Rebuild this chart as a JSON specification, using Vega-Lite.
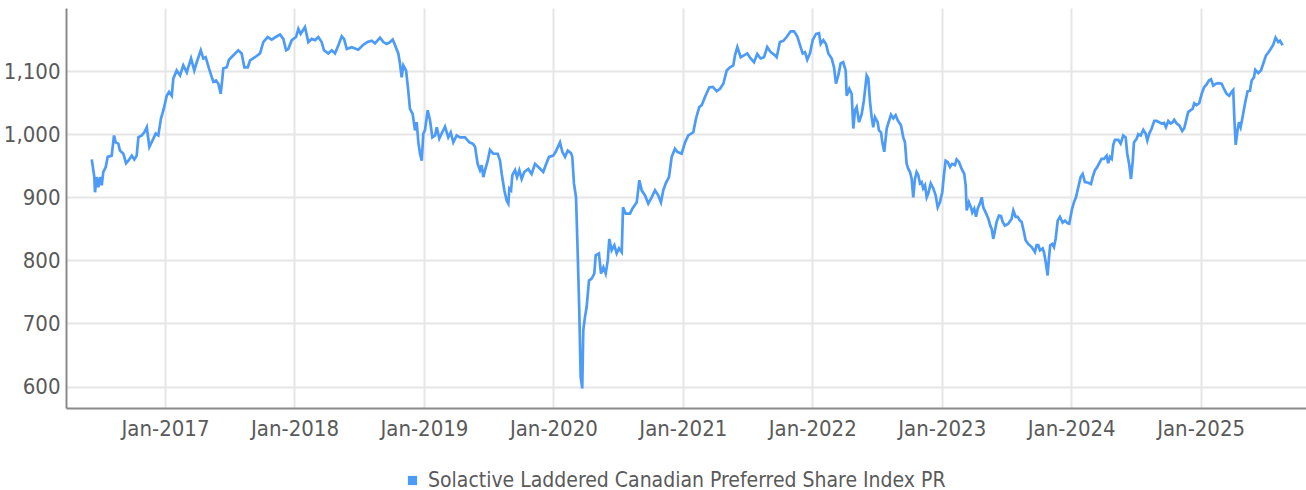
{
  "$schema": "https://vega.github.io/schema/vega-lite/v6.json",
  "autosize": {"type": "none"},
  "width": 1240,
  "height": 400,
  "padding": {"left": 66, "top": 8, "right": 0, "bottom": 82},
  "background": "white",
  "config": {
    "font": "DejaVu Sans Condensed, Roboto",
    "view": {"stroke": null},
    "axis": {"labelFont": "DejaVu Sans Condensed, Roboto", "labelColor": "#5a5a5a", "labelFontSize": 22, "gridColor": "#e6e6e6", "gridWidth": 2, "domainColor": "#8a8a8a", "domainWidth": 2, "ticks": false, "title": null},
    "legend": {"labelFont": "DejaVu Sans Condensed, Roboto", "labelColor": "#5a5a5a", "labelFontSize": 21}
  },
  "data": {"values": [
    {"year": 2016.434, "value": 960}, {"year": 2016.454, "value": 932}, {"year": 2016.459, "value": 908}, {"year": 2016.472, "value": 932},
    {"year": 2016.485, "value": 916}, {"year": 2016.498, "value": 932}, {"year": 2016.511, "value": 919}, {"year": 2016.523, "value": 940},
    {"year": 2016.542, "value": 948}, {"year": 2016.557, "value": 964}, {"year": 2016.588, "value": 966}, {"year": 2016.606, "value": 998},
    {"year": 2016.619, "value": 987}, {"year": 2016.639, "value": 985}, {"year": 2016.652, "value": 974}, {"year": 2016.678, "value": 969},
    {"year": 2016.699, "value": 954}, {"year": 2016.717, "value": 958}, {"year": 2016.743, "value": 966}, {"year": 2016.763, "value": 960},
    {"year": 2016.781, "value": 966}, {"year": 2016.794, "value": 995}, {"year": 2016.820, "value": 998}, {"year": 2016.840, "value": 1003},
    {"year": 2016.859, "value": 1011}, {"year": 2016.879, "value": 980}, {"year": 2016.910, "value": 993}, {"year": 2016.928, "value": 1001},
    {"year": 2016.948, "value": 998}, {"year": 2016.969, "value": 1025}, {"year": 2016.990, "value": 1040}, {"year": 2017.013, "value": 1061},
    {"year": 2017.031, "value": 1067}, {"year": 2017.052, "value": 1061}, {"year": 2017.064, "value": 1088}, {"year": 2017.090, "value": 1101},
    {"year": 2017.116, "value": 1093}, {"year": 2017.141, "value": 1109}, {"year": 2017.168, "value": 1098}, {"year": 2017.201, "value": 1120},
    {"year": 2017.226, "value": 1101}, {"year": 2017.245, "value": 1114}, {"year": 2017.276, "value": 1133}, {"year": 2017.296, "value": 1120},
    {"year": 2017.314, "value": 1122}, {"year": 2017.340, "value": 1104}, {"year": 2017.373, "value": 1083}, {"year": 2017.394, "value": 1085},
    {"year": 2017.412, "value": 1080}, {"year": 2017.430, "value": 1064}, {"year": 2017.443, "value": 1088}, {"year": 2017.450, "value": 1104},
    {"year": 2017.477, "value": 1106}, {"year": 2017.494, "value": 1118}, {"year": 2017.528, "value": 1125}, {"year": 2017.566, "value": 1133},
    {"year": 2017.592, "value": 1128}, {"year": 2017.613, "value": 1106}, {"year": 2017.639, "value": 1106}, {"year": 2017.657, "value": 1117},
    {"year": 2017.695, "value": 1122}, {"year": 2017.734, "value": 1128}, {"year": 2017.759, "value": 1146}, {"year": 2017.793, "value": 1154},
    {"year": 2017.824, "value": 1150}, {"year": 2017.855, "value": 1154}, {"year": 2017.888, "value": 1158}, {"year": 2017.914, "value": 1151},
    {"year": 2017.935, "value": 1133}, {"year": 2017.952, "value": 1135}, {"year": 2017.979, "value": 1149}, {"year": 2018.012, "value": 1154},
    {"year": 2018.030, "value": 1167}, {"year": 2018.048, "value": 1159}, {"year": 2018.081, "value": 1170}, {"year": 2018.107, "value": 1146},
    {"year": 2018.133, "value": 1151}, {"year": 2018.159, "value": 1149}, {"year": 2018.184, "value": 1154}, {"year": 2018.210, "value": 1146},
    {"year": 2018.228, "value": 1133}, {"year": 2018.261, "value": 1128}, {"year": 2018.288, "value": 1133}, {"year": 2018.313, "value": 1128},
    {"year": 2018.339, "value": 1141}, {"year": 2018.365, "value": 1155}, {"year": 2018.383, "value": 1151}, {"year": 2018.404, "value": 1135},
    {"year": 2018.442, "value": 1138}, {"year": 2018.493, "value": 1134}, {"year": 2018.527, "value": 1141}, {"year": 2018.563, "value": 1146},
    {"year": 2018.597, "value": 1148}, {"year": 2018.622, "value": 1144}, {"year": 2018.661, "value": 1153}, {"year": 2018.686, "value": 1146},
    {"year": 2018.712, "value": 1143}, {"year": 2018.738, "value": 1146}, {"year": 2018.759, "value": 1150}, {"year": 2018.777, "value": 1141},
    {"year": 2018.802, "value": 1128}, {"year": 2018.815, "value": 1112}, {"year": 2018.828, "value": 1090}, {"year": 2018.841, "value": 1109},
    {"year": 2018.862, "value": 1101}, {"year": 2018.879, "value": 1069}, {"year": 2018.892, "value": 1040}, {"year": 2018.913, "value": 1032},
    {"year": 2018.931, "value": 1006}, {"year": 2018.944, "value": 1019}, {"year": 2018.957, "value": 987}, {"year": 2018.970, "value": 969},
    {"year": 2018.983, "value": 958}, {"year": 2018.995, "value": 1001}, {"year": 2019.008, "value": 1006}, {"year": 2019.029, "value": 1038},
    {"year": 2019.047, "value": 1022}, {"year": 2019.065, "value": 995}, {"year": 2019.086, "value": 998}, {"year": 2019.099, "value": 1011},
    {"year": 2019.119, "value": 993}, {"year": 2019.137, "value": 1001}, {"year": 2019.163, "value": 1012}, {"year": 2019.188, "value": 995},
    {"year": 2019.207, "value": 1003}, {"year": 2019.227, "value": 987}, {"year": 2019.253, "value": 998}, {"year": 2019.279, "value": 995},
    {"year": 2019.317, "value": 995}, {"year": 2019.351, "value": 987}, {"year": 2019.377, "value": 985}, {"year": 2019.395, "value": 980},
    {"year": 2019.415, "value": 953}, {"year": 2019.433, "value": 943}, {"year": 2019.446, "value": 951}, {"year": 2019.459, "value": 932},
    {"year": 2019.472, "value": 943}, {"year": 2019.493, "value": 958}, {"year": 2019.510, "value": 975}, {"year": 2019.536, "value": 969},
    {"year": 2019.570, "value": 969}, {"year": 2019.588, "value": 958}, {"year": 2019.601, "value": 937}, {"year": 2019.621, "value": 911},
    {"year": 2019.639, "value": 895}, {"year": 2019.652, "value": 890}, {"year": 2019.660, "value": 914}, {"year": 2019.673, "value": 911},
    {"year": 2019.683, "value": 935}, {"year": 2019.704, "value": 943}, {"year": 2019.719, "value": 932}, {"year": 2019.737, "value": 943},
    {"year": 2019.755, "value": 929}, {"year": 2019.775, "value": 940}, {"year": 2019.806, "value": 945}, {"year": 2019.832, "value": 937},
    {"year": 2019.858, "value": 953}, {"year": 2019.884, "value": 948}, {"year": 2019.922, "value": 940}, {"year": 2019.941, "value": 951},
    {"year": 2019.966, "value": 964}, {"year": 2019.999, "value": 966}, {"year": 2020.018, "value": 972}, {"year": 2020.051, "value": 987},
    {"year": 2020.069, "value": 972}, {"year": 2020.090, "value": 964}, {"year": 2020.111, "value": 974}, {"year": 2020.136, "value": 970},
    {"year": 2020.146, "value": 964}, {"year": 2020.159, "value": 922}, {"year": 2020.175, "value": 900}, {"year": 2020.188, "value": 811},
    {"year": 2020.200, "value": 721}, {"year": 2020.211, "value": 615}, {"year": 2020.223, "value": 597}, {"year": 2020.231, "value": 689},
    {"year": 2020.244, "value": 710}, {"year": 2020.257, "value": 726}, {"year": 2020.275, "value": 768}, {"year": 2020.296, "value": 771},
    {"year": 2020.316, "value": 779}, {"year": 2020.327, "value": 808}, {"year": 2020.352, "value": 811}, {"year": 2020.368, "value": 779},
    {"year": 2020.386, "value": 789}, {"year": 2020.404, "value": 779}, {"year": 2020.420, "value": 800}, {"year": 2020.432, "value": 834},
    {"year": 2020.450, "value": 816}, {"year": 2020.471, "value": 824}, {"year": 2020.489, "value": 811}, {"year": 2020.507, "value": 819},
    {"year": 2020.528, "value": 813}, {"year": 2020.538, "value": 884}, {"year": 2020.559, "value": 874}, {"year": 2020.592, "value": 874},
    {"year": 2020.610, "value": 882}, {"year": 2020.644, "value": 892}, {"year": 2020.664, "value": 927}, {"year": 2020.682, "value": 911},
    {"year": 2020.708, "value": 903}, {"year": 2020.733, "value": 890}, {"year": 2020.759, "value": 900}, {"year": 2020.785, "value": 911},
    {"year": 2020.810, "value": 903}, {"year": 2020.831, "value": 892}, {"year": 2020.849, "value": 911}, {"year": 2020.868, "value": 922},
    {"year": 2020.893, "value": 932}, {"year": 2020.914, "value": 964}, {"year": 2020.939, "value": 977}, {"year": 2020.957, "value": 972},
    {"year": 2020.991, "value": 969}, {"year": 2021.017, "value": 987}, {"year": 2021.042, "value": 998}, {"year": 2021.081, "value": 1003},
    {"year": 2021.102, "value": 1025}, {"year": 2021.127, "value": 1043}, {"year": 2021.146, "value": 1046}, {"year": 2021.171, "value": 1059},
    {"year": 2021.204, "value": 1074}, {"year": 2021.231, "value": 1075}, {"year": 2021.262, "value": 1068}, {"year": 2021.287, "value": 1072},
    {"year": 2021.313, "value": 1080}, {"year": 2021.339, "value": 1101}, {"year": 2021.364, "value": 1106}, {"year": 2021.390, "value": 1109},
    {"year": 2021.403, "value": 1125}, {"year": 2021.421, "value": 1138}, {"year": 2021.447, "value": 1122}, {"year": 2021.472, "value": 1125},
    {"year": 2021.498, "value": 1128}, {"year": 2021.524, "value": 1120}, {"year": 2021.550, "value": 1114}, {"year": 2021.575, "value": 1127},
    {"year": 2021.601, "value": 1120}, {"year": 2021.627, "value": 1122}, {"year": 2021.652, "value": 1138}, {"year": 2021.679, "value": 1130},
    {"year": 2021.712, "value": 1125}, {"year": 2021.725, "value": 1122}, {"year": 2021.750, "value": 1146}, {"year": 2021.776, "value": 1148},
    {"year": 2021.802, "value": 1154}, {"year": 2021.833, "value": 1163}, {"year": 2021.859, "value": 1163}, {"year": 2021.884, "value": 1155},
    {"year": 2021.910, "value": 1138}, {"year": 2021.926, "value": 1128}, {"year": 2021.944, "value": 1130}, {"year": 2021.961, "value": 1118},
    {"year": 2021.982, "value": 1128}, {"year": 2022.003, "value": 1149}, {"year": 2022.029, "value": 1159}, {"year": 2022.052, "value": 1160},
    {"year": 2022.065, "value": 1143}, {"year": 2022.085, "value": 1149}, {"year": 2022.106, "value": 1143}, {"year": 2022.124, "value": 1128},
    {"year": 2022.150, "value": 1120}, {"year": 2022.168, "value": 1106}, {"year": 2022.183, "value": 1080}, {"year": 2022.201, "value": 1093},
    {"year": 2022.219, "value": 1112}, {"year": 2022.239, "value": 1114}, {"year": 2022.258, "value": 1101}, {"year": 2022.266, "value": 1061},
    {"year": 2022.286, "value": 1072}, {"year": 2022.304, "value": 1064}, {"year": 2022.317, "value": 1009}, {"year": 2022.330, "value": 1038},
    {"year": 2022.343, "value": 1043}, {"year": 2022.361, "value": 1019}, {"year": 2022.382, "value": 1032}, {"year": 2022.399, "value": 1054},
    {"year": 2022.420, "value": 1093}, {"year": 2022.433, "value": 1088}, {"year": 2022.446, "value": 1051}, {"year": 2022.459, "value": 1027},
    {"year": 2022.471, "value": 1011}, {"year": 2022.484, "value": 1027}, {"year": 2022.505, "value": 1019}, {"year": 2022.515, "value": 1006},
    {"year": 2022.531, "value": 1003}, {"year": 2022.541, "value": 987}, {"year": 2022.556, "value": 972}, {"year": 2022.575, "value": 1009},
    {"year": 2022.587, "value": 1017}, {"year": 2022.608, "value": 1031}, {"year": 2022.626, "value": 1025}, {"year": 2022.644, "value": 1030},
    {"year": 2022.660, "value": 1022}, {"year": 2022.685, "value": 1014}, {"year": 2022.703, "value": 995}, {"year": 2022.716, "value": 987},
    {"year": 2022.729, "value": 953}, {"year": 2022.742, "value": 945}, {"year": 2022.755, "value": 940}, {"year": 2022.768, "value": 929},
    {"year": 2022.780, "value": 900}, {"year": 2022.793, "value": 929}, {"year": 2022.806, "value": 940}, {"year": 2022.819, "value": 935},
    {"year": 2022.832, "value": 922}, {"year": 2022.845, "value": 924}, {"year": 2022.857, "value": 914}, {"year": 2022.871, "value": 919},
    {"year": 2022.884, "value": 900}, {"year": 2022.896, "value": 906}, {"year": 2022.915, "value": 922}, {"year": 2022.935, "value": 914},
    {"year": 2022.953, "value": 903}, {"year": 2022.969, "value": 884}, {"year": 2022.986, "value": 892}, {"year": 2023.004, "value": 908},
    {"year": 2023.017, "value": 935}, {"year": 2023.030, "value": 958}, {"year": 2023.046, "value": 956}, {"year": 2023.064, "value": 948},
    {"year": 2023.081, "value": 953}, {"year": 2023.102, "value": 951}, {"year": 2023.115, "value": 960}, {"year": 2023.133, "value": 956},
    {"year": 2023.154, "value": 945}, {"year": 2023.174, "value": 937}, {"year": 2023.185, "value": 919}, {"year": 2023.193, "value": 879},
    {"year": 2023.210, "value": 892}, {"year": 2023.226, "value": 884}, {"year": 2023.236, "value": 876}, {"year": 2023.251, "value": 882},
    {"year": 2023.265, "value": 869}, {"year": 2023.278, "value": 882}, {"year": 2023.295, "value": 890}, {"year": 2023.309, "value": 900},
    {"year": 2023.321, "value": 884}, {"year": 2023.339, "value": 876}, {"year": 2023.360, "value": 866}, {"year": 2023.375, "value": 855},
    {"year": 2023.386, "value": 850}, {"year": 2023.398, "value": 834}, {"year": 2023.411, "value": 847}, {"year": 2023.424, "value": 861},
    {"year": 2023.442, "value": 871}, {"year": 2023.458, "value": 870}, {"year": 2023.471, "value": 861}, {"year": 2023.488, "value": 855},
    {"year": 2023.514, "value": 858}, {"year": 2023.540, "value": 866}, {"year": 2023.553, "value": 879}, {"year": 2023.571, "value": 869},
    {"year": 2023.587, "value": 869}, {"year": 2023.604, "value": 863}, {"year": 2023.617, "value": 861}, {"year": 2023.635, "value": 845},
    {"year": 2023.648, "value": 832}, {"year": 2023.668, "value": 826}, {"year": 2023.695, "value": 821}, {"year": 2023.720, "value": 813},
    {"year": 2023.733, "value": 824}, {"year": 2023.746, "value": 824}, {"year": 2023.759, "value": 816}, {"year": 2023.780, "value": 819},
    {"year": 2023.792, "value": 811}, {"year": 2023.805, "value": 795}, {"year": 2023.818, "value": 776}, {"year": 2023.828, "value": 803},
    {"year": 2023.838, "value": 824}, {"year": 2023.854, "value": 826}, {"year": 2023.867, "value": 821}, {"year": 2023.880, "value": 834},
    {"year": 2023.896, "value": 863}, {"year": 2023.913, "value": 869}, {"year": 2023.934, "value": 860}, {"year": 2023.952, "value": 863},
    {"year": 2023.970, "value": 859}, {"year": 2023.985, "value": 858}, {"year": 2024.004, "value": 879}, {"year": 2024.021, "value": 892},
    {"year": 2024.037, "value": 900}, {"year": 2024.055, "value": 916}, {"year": 2024.073, "value": 932}, {"year": 2024.089, "value": 937},
    {"year": 2024.106, "value": 924}, {"year": 2024.132, "value": 923}, {"year": 2024.153, "value": 921}, {"year": 2024.166, "value": 932},
    {"year": 2024.184, "value": 943}, {"year": 2024.201, "value": 948}, {"year": 2024.222, "value": 956}, {"year": 2024.235, "value": 961},
    {"year": 2024.253, "value": 961}, {"year": 2024.274, "value": 966}, {"year": 2024.286, "value": 954}, {"year": 2024.300, "value": 964},
    {"year": 2024.313, "value": 961}, {"year": 2024.325, "value": 983}, {"year": 2024.338, "value": 991}, {"year": 2024.364, "value": 991},
    {"year": 2024.382, "value": 985}, {"year": 2024.390, "value": 990}, {"year": 2024.402, "value": 998}, {"year": 2024.421, "value": 995},
    {"year": 2024.433, "value": 969}, {"year": 2024.449, "value": 951}, {"year": 2024.462, "value": 929}, {"year": 2024.475, "value": 956},
    {"year": 2024.485, "value": 987}, {"year": 2024.506, "value": 993}, {"year": 2024.518, "value": 1000}, {"year": 2024.537, "value": 998},
    {"year": 2024.557, "value": 1007}, {"year": 2024.575, "value": 1001}, {"year": 2024.588, "value": 990}, {"year": 2024.603, "value": 1001},
    {"year": 2024.622, "value": 1009}, {"year": 2024.642, "value": 1021}, {"year": 2024.660, "value": 1021}, {"year": 2024.680, "value": 1019},
    {"year": 2024.699, "value": 1017}, {"year": 2024.717, "value": 1018}, {"year": 2024.732, "value": 1011}, {"year": 2024.750, "value": 1021},
    {"year": 2024.768, "value": 1017}, {"year": 2024.784, "value": 1019}, {"year": 2024.796, "value": 1023}, {"year": 2024.815, "value": 1017},
    {"year": 2024.835, "value": 1014}, {"year": 2024.858, "value": 1005}, {"year": 2024.873, "value": 1009}, {"year": 2024.892, "value": 1025},
    {"year": 2024.904, "value": 1035}, {"year": 2024.923, "value": 1038}, {"year": 2024.938, "value": 1040}, {"year": 2024.951, "value": 1049},
    {"year": 2024.969, "value": 1046}, {"year": 2024.989, "value": 1049}, {"year": 2025.008, "value": 1064}, {"year": 2025.026, "value": 1074},
    {"year": 2025.046, "value": 1079}, {"year": 2025.064, "value": 1085}, {"year": 2025.080, "value": 1087}, {"year": 2025.098, "value": 1077},
    {"year": 2025.118, "value": 1080}, {"year": 2025.136, "value": 1081}, {"year": 2025.162, "value": 1080}, {"year": 2025.180, "value": 1072},
    {"year": 2025.201, "value": 1064}, {"year": 2025.221, "value": 1061}, {"year": 2025.240, "value": 1067}, {"year": 2025.252, "value": 1070},
    {"year": 2025.260, "value": 1027}, {"year": 2025.271, "value": 983}, {"year": 2025.283, "value": 1003}, {"year": 2025.296, "value": 1019},
    {"year": 2025.309, "value": 1011}, {"year": 2025.322, "value": 1025}, {"year": 2025.335, "value": 1040}, {"year": 2025.350, "value": 1056},
    {"year": 2025.363, "value": 1068}, {"year": 2025.381, "value": 1069}, {"year": 2025.394, "value": 1085}, {"year": 2025.412, "value": 1090},
    {"year": 2025.422, "value": 1102}, {"year": 2025.445, "value": 1097}, {"year": 2025.466, "value": 1101}, {"year": 2025.484, "value": 1112},
    {"year": 2025.505, "value": 1125}, {"year": 2025.522, "value": 1129}, {"year": 2025.541, "value": 1135}, {"year": 2025.561, "value": 1142},
    {"year": 2025.579, "value": 1153}, {"year": 2025.600, "value": 1146}, {"year": 2025.613, "value": 1148}, {"year": 2025.634, "value": 1141}
  ]},
  "mark": {"type": "line", "strokeWidth": 2.7, "clip": true},
  "encoding": {
    "x": {
      "field": "year", "type": "quantitative",
      "scale": {"domain": [2016.235, 2025.814], "nice": false, "zero": false},
      "axis": {"values": [2017, 2018, 2019, 2020, 2021, 2022, 2023, 2024, 2025], "labelExpr": "'Jan-' + datum.value", "labelPadding": 10, "labelFlush": false, "labelOverlap": false}
    },
    "y": {
      "field": "value", "type": "quantitative",
      "scale": {"domain": [566, 1200], "nice": false, "zero": false},
      "axis": {"values": [600, 700, 800, 900, 1000, 1100], "format": ",d", "labelPadding": 6}
    },
    "color": {
      "datum": "Solactive Laddered Canadian Preferred Share Index PR",
      "type": "nominal",
      "scale": {"range": ["#4d9bf8"]},
      "legend": {
        "title": null, "orient": "none", "legendX": 336, "legendY": 462,
        "symbolType": "square", "symbolSize": 85, "labelOffset": 5, "padding": 0,
        "labelLimit": 900,
        "encode": {"symbols": {"update": {"fill": {"value": "#4d9bf8"}, "stroke": {"value": "#4d9bf8"}, "strokeWidth": {"value": 0}}}}
      }
    }
  }
}
